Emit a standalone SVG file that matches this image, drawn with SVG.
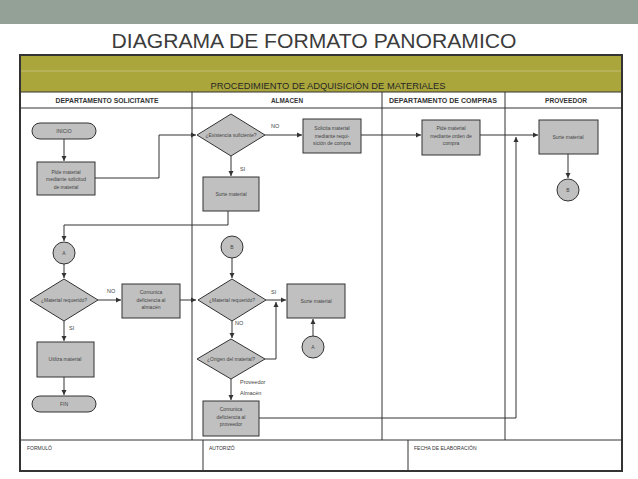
<svg xmlns="http://www.w3.org/2000/svg" width="638" height="479" viewBox="0 0 638 479">
<defs>
<marker id="ah" markerWidth="6" markerHeight="6" refX="5" refY="3" orient="auto" markerUnits="userSpaceOnUse">
<path d="M0,0.5 L5,3 L0,5.5 Z" fill="#333"/>
</marker>
<style>
.box{fill:#c0c0c0;stroke:#333;stroke-width:1}
.t{font-family:"Liberation Sans",Arial,sans-serif;font-size:5px;fill:#444;text-anchor:middle}
.lbl{font-family:"Liberation Sans",Arial,sans-serif;font-size:5.5px;fill:#444}
.hd{font-family:"Liberation Sans",Arial,sans-serif;font-size:6.5px;font-weight:bold;fill:#333;text-anchor:middle}
.ft{font-family:"Liberation Sans",Arial,sans-serif;font-size:5px;fill:#333}
.ln{fill:none;stroke:#333;stroke-width:1}
.c{fill:none;stroke:#333;stroke-width:1;marker-end:url(#ah)}
</style>
</defs>
<rect x="0" y="0" width="638" height="479" fill="#fff"/>
<rect x="0" y="0" width="638" height="24" fill="#94a196"/>
<text x="314" y="48" font-family="'Liberation Sans',Arial,sans-serif" font-size="20" fill="#3c3c3c" text-anchor="middle" textLength="405" lengthAdjust="spacingAndGlyphs">DIAGRAMA DE FORMATO PANORAMICO</text>

<g id="frame">
<rect x="20" y="55" width="602" height="37" fill="#aba63c"/>
<line x1="20" y1="71" x2="622" y2="71" stroke="#c8c482" stroke-width="0.8"/>
<text x="328" y="89" font-family="'Liberation Sans',Arial,sans-serif" font-size="9.5" fill="#262626" text-anchor="middle" textLength="235" lengthAdjust="spacingAndGlyphs">PROCEDIMIENTO DE ADQUISICIÓN DE MATERIALES</text>
<line x1="20" y1="92" x2="622" y2="92" class="ln"/>
<line x1="20" y1="108" x2="622" y2="108" class="ln"/>
<line x1="192" y1="92" x2="192" y2="440" class="ln"/>
<line x1="382" y1="92" x2="382" y2="440" class="ln"/>
<line x1="505" y1="92" x2="505" y2="440" class="ln"/>
<line x1="20" y1="440" x2="622" y2="440" class="ln"/>
<line x1="203" y1="440" x2="203" y2="471" class="ln"/>
<line x1="408" y1="440" x2="408" y2="471" class="ln"/>
<rect x="20" y="55" width="602" height="416" fill="none" stroke="#333" stroke-width="2"/>
<text class="hd" x="107" y="103" textLength="103" lengthAdjust="spacingAndGlyphs">DEPARTAMENTO SOLICITANTE</text>
<text class="hd" x="287" y="103" textLength="32" lengthAdjust="spacingAndGlyphs">ALMACEN</text>
<text class="hd" x="443" y="103" textLength="108" lengthAdjust="spacingAndGlyphs">DEPARTAMENTO DE COMPRAS</text>
<text class="hd" x="566" y="103" textLength="42" lengthAdjust="spacingAndGlyphs">PROVEEDOR</text>
<text class="ft" x="27" y="450">FORMULÓ</text>
<text class="ft" x="209" y="450">AUTORIZÓ</text>
<text class="ft" x="414" y="450">FECHA DE ELABORACIÓN</text>
</g>

<g id="connectors">
<path class="c" d="M64,139 V161"/>
<path class="c" d="M95,178 H159 V135 H196"/>
<path class="c" d="M265,135 H302"/>
<path class="c" d="M231,156 V176"/>
<path class="c" d="M228,211 V225 H64 V241"/>
<path class="c" d="M64,264 V278"/>
<path class="c" d="M98,300 H121"/>
<path class="c" d="M180,300 H196"/>
<path class="c" d="M64,321 V341"/>
<path class="c" d="M64,377 V395"/>
<path class="c" d="M232,258 V278"/>
<path class="c" d="M266,300 H286"/>
<path class="c" d="M265,359 H276 V302"/>
<path class="c" d="M313,336 V319"/>
<path class="c" d="M232,321 V338"/>
<path class="c" d="M231,379 V400"/>
<path class="c" d="M259,418 H516 V137"/>
<path class="c" d="M361,135 H421"/>
<path class="c" d="M480,135 H538"/>
<path class="c" d="M568,154 V178"/>
<text class="lbl" x="271" y="128">NO</text>
<text class="lbl" x="240" y="171">SI</text>
<text class="lbl" x="107" y="293">NO</text>
<text class="lbl" x="69" y="330">SI</text>
<text class="lbl" x="271" y="294">SI</text>
<text class="lbl" x="235" y="325">NO</text>
<text class="lbl" x="240" y="384" font-size="5">Proveedor</text>
<text class="lbl" x="240" y="395" font-size="5">Almacén</text>
</g>

<g id="inicio">
<rect class="box" x="32" y="123" width="64" height="16" rx="8"/>
<text class="t" x="64" y="133">INICIO</text>
</g>
<g id="pide-solicitud">
<rect class="box" x="37" y="162" width="58" height="33"/>
<text class="t" x="66" y="173.5">Pide material</text>
<text class="t" x="66" y="181">mediante solicitud</text>
<text class="t" x="66" y="188.5">de material</text>
</g>
<g id="existencia">
<polygon class="box" points="197,135 231,114 265,135 231,156"/>
<text class="t" x="231" y="137">¿Existencia suficiente?</text>
</g>
<g id="solicita">
<rect class="box" x="303" y="119" width="58" height="34"/>
<text class="t" x="332" y="130">Solicita material</text>
<text class="t" x="332" y="137.5">mediante requi-</text>
<text class="t" x="332" y="145">sición de compra</text>
</g>
<g id="surte-almacen">
<rect class="box" x="203" y="177" width="56" height="34"/>
<text class="t" x="231" y="196">Surte material</text>
</g>
<g id="pide-orden">
<rect class="box" x="422" y="120" width="58" height="35"/>
<text class="t" x="451" y="130">Pide material</text>
<text class="t" x="451" y="137.5">mediante orden de</text>
<text class="t" x="451" y="145">compra</text>
</g>
<g id="surte-proveedor">
<rect class="box" x="539" y="120" width="59" height="34"/>
<text class="t" x="568" y="139">Surte material</text>
</g>
<g id="conector-b-proveedor">
<circle class="box" cx="568" cy="190" r="11"/>
<text class="t" x="568" y="192">B</text>
</g>
<g id="conector-a">
<circle class="box" cx="64" cy="253" r="11"/>
<text class="t" x="64" y="255">A</text>
</g>
<g id="material-requerido-1">
<polygon class="box" points="30,300 64,279 98,300 64,321"/>
<text class="t" x="64" y="302">¿Material requerido?</text>
</g>
<g id="comunica-almacen">
<rect class="box" x="122" y="284" width="58" height="34"/>
<text class="t" x="151" y="294">Comunica</text>
<text class="t" x="151" y="301.5">deficiencia al</text>
<text class="t" x="151" y="309">almacén</text>
</g>
<g id="utiliza">
<rect class="box" x="37" y="342" width="57" height="35"/>
<text class="t" x="65" y="361">Utiliza material</text>
</g>
<g id="fin">
<rect class="box" x="32" y="396" width="64" height="16" rx="8"/>
<text class="t" x="64" y="406">FIN</text>
</g>
<g id="conector-b">
<circle class="box" cx="232" cy="247" r="11"/>
<text class="t" x="232" y="249">B</text>
</g>
<g id="material-requerido-2">
<polygon class="box" points="198,300 232,279 266,300 232,321"/>
<text class="t" x="232" y="302">¿Material requerido?</text>
</g>
<g id="surte-material-2">
<rect class="box" x="287" y="284" width="58" height="34"/>
<text class="t" x="316" y="303">Surte material</text>
</g>
<g id="conector-a-2">
<circle class="box" cx="313" cy="347" r="11"/>
<text class="t" x="313" y="349">A</text>
</g>
<g id="origen">
<polygon class="box" points="197,359 231,339 265,359 231,379"/>
<text class="t" x="231" y="361">¿Origen del material?</text>
</g>
<g id="comunica-proveedor">
<rect class="box" x="203" y="401" width="56" height="35"/>
<text class="t" x="231" y="411">Comunica</text>
<text class="t" x="231" y="418.5">deficiencia al</text>
<text class="t" x="231" y="426">proveedor</text>
</g>
</svg>
